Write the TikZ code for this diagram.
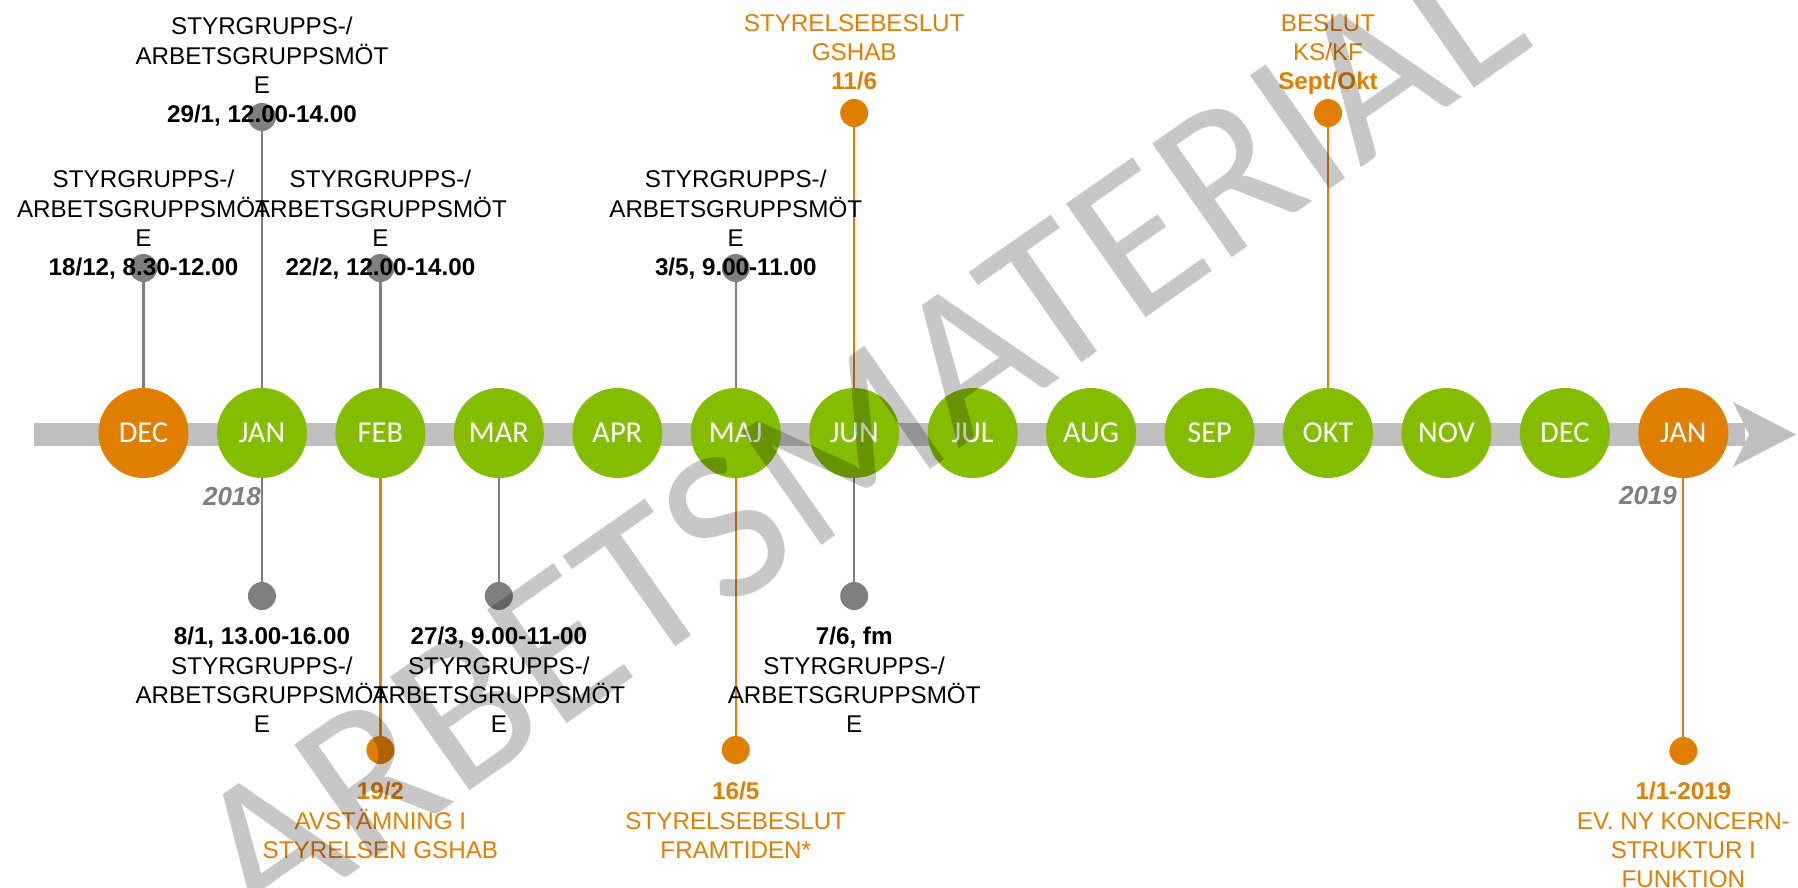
\documentclass[tikz,border=0pt]{standalone}
\usepackage{fontspec}
\setmainfont{Liberation Sans}
\newfontfamily\calib{Carlito}
\usepackage{tikz}
\usetikzlibrary{positioning}
\definecolor{tlgreen}{HTML}{84BD00}
\definecolor{tlorange}{HTML}{E07E00}
\definecolor{tlbar}{HTML}{BFBFBF}
\definecolor{tlgray}{HTML}{7F7F7F}
\tikzset{
  month/.style={circle,minimum size=45pt,inner sep=0pt,text=white,font=\calib\fontsize{15.2}{16}\selectfont},
  gdot/.style={circle,fill=tlgray,minimum size=14pt,inner sep=0pt},
  odot/.style={gdot,fill=tlorange},
  gpin/.style={draw=tlgray,line width=1.1pt},
  opin/.style={draw=tlorange,line width=1.1pt},
  meet/.style={align=center,inner sep=0pt,anchor=north,font=\fontsize{12.1}{14.65}\selectfont},
  deci/.style={meet,text=tlorange},
  year/.style={text=tlgray,font=\bfseries\itshape\fontsize{13}{15}\selectfont},
  wmark/.style={anchor=base west,rotate=35,inner sep=0pt,text=black,text opacity=0.22,font=\calib\fontsize{108}{110}\selectfont},
}

\begin{document}
\begin{tikzpicture}[x=0.5pt,y=-0.5pt]
  \useasboundingbox (0,0) rectangle (1798,888);
  % time axis
  \fill[tlbar] (34,423) rectangle (1745,446);
  \fill[tlbar] (1733,402) -- (1796,434.5) -- (1733,467) -- (1749,434.5) -- cycle;
  \foreach \lab/\col [count=\i from 0] in {DEC/tlorange,JAN/tlgreen,FEB/tlgreen,MAR/tlgreen,APR/tlgreen,MAJ/tlgreen,JUN/tlgreen,JUL/tlgreen,AUG/tlgreen,SEP/tlgreen,OKT/tlgreen,NOV/tlgreen,DEC/tlgreen,JAN/tlorange}
    \node[month,fill=\col] (m\i) at ({143.5+118.45*\i},433) {\lab};
  \node[year] (y18) at (232,497) {2018};
  \node[year] (y19) at (1648,496) {2019};
  % meetings above
  \node[gdot] (p0) at (m0 |- 0,268) {};
  \node[gdot] (p1) at (m1 |- 0,117) {};
  \node[gdot] (p2) at (m2 |- 0,268) {};
  \node[gdot] (p5) at (m5 |- 0,268) {};
  \foreach \i in {0,1,2,5} \draw[gpin] (m\i) -- (p\i);
  % meetings below
  \node[gdot] (q1) at (m1 |- 0,596) {};
  \node[gdot] (q3) at (m3 |- 0,596) {};
  \node[gdot] (q6) at (m6 |- 0,596) {};
  \foreach \i in {1,3,6} \draw[gpin] (m\i) -- (q\i);
  % decisions
  \node[odot] (o2) at (m2 |- 0,750) {};
  \node[odot] (o5) at (m5 |- 0,750) {};
  \node[odot] (o13) at (m13 |- 0,751) {};
  \node[odot] (o6) at (m6 |- 0,113) {};
  \node[odot] (o10) at (m10 |- 0,113) {};
  \foreach \i in {2,5,13,6,10} \draw[opin] (m\i) -- (o\i);
  % labels
  \node[meet] (t0) at (m0 |- 0,170) {STYRGRUPPS-/\\ARBETSGRUPPSMÖT\\E\\\textbf{18/12, 8.30-12.00}};
  \node[meet] (t1) at (m1 |- 0,17) {STYRGRUPPS-/\\ARBETSGRUPPSMÖT\\E\\\textbf{29/1, 12.00-14.00}};
  \node[meet] (t2) at (m2 |- 0,170) {STYRGRUPPS-/\\ARBETSGRUPPSMÖT\\E\\\textbf{22/2, 12.00-14.00}};
  \node[meet] (t5) at (m5 |- 0,170) {STYRGRUPPS-/\\ARBETSGRUPPSMÖT\\E\\\textbf{3/5, 9.00-11.00}};
  \node[meet] (b1) at (m1 |- 0,627) {\textbf{8/1, 13.00-16.00}\\STYRGRUPPS-/\\ARBETSGRUPPSMÖT\\E};
  \node[meet] (b3) at (m3 |- 0,627) {\textbf{27/3, 9.00-11-00}\\STYRGRUPPS-/\\ARBETSGRUPPSMÖT\\E};
  \node[meet] (b6) at (m6 |- 0,627) {\textbf{7/6, fm}\\STYRGRUPPS-/\\ARBETSGRUPPSMÖT\\E};
  \node[deci] (d2) at (m2 |- 0,782) {\textbf{19/2}\\AVSTÄMNING I\\STYRELSEN GSHAB};
  \node[deci] (d5) at (m5 |- 0,782) {\textbf{16/5}\\STYRELSEBESLUT\\FRAMTIDEN*};
  \node[deci] (d13) at (m13 |- 0,782) {\textbf{1/1-2019}\\EV. NY KONCERN-\\STRUKTUR I\\FUNKTION};
  \node[deci] (d6) at (m6 |- 0,14) {STYRELSEBESLUT\\GSHAB\\\textbf{11/6}};
  \node[deci] (d10) at (m10 |- 0,14) {BESLUT\\KS/KF\\\textbf{Sept/Okt}};
  % watermark
  \begin{scope}
    \clip (0,0) rectangle (1798,888);
    \node[wmark] (wm) at (259,939) {ARBETSMATERIAL};
  \end{scope}
\end{tikzpicture}
\end{document}
